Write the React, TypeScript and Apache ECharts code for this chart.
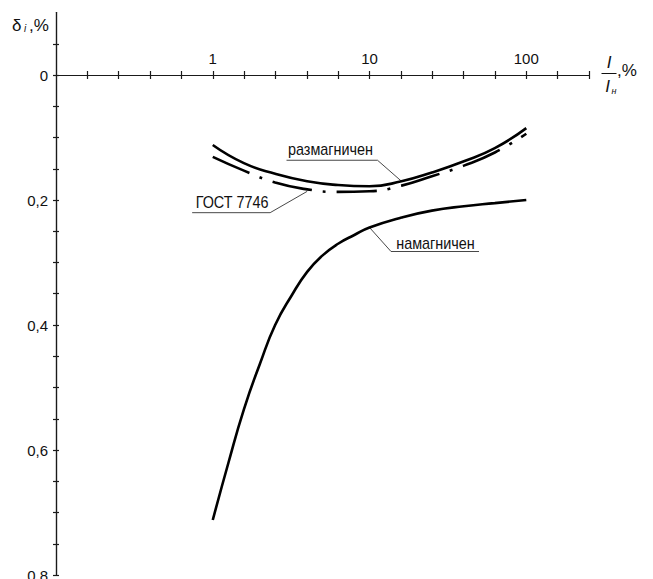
import { useEffect, useRef } from "react";
import * as echarts from "echarts";

const FONT = '"Liberation Sans", Arial, sans-serif';
const INK = "#111";

// Current ratio I/Iн, % (log-spaced) and the ratio error δi, % for each curve
const ratioFine = [1, 1.26, 1.58, 2, 2.5, 3.2, 4, 5, 6.3, 8, 10, 16, 25, 40, 63, 100];
const errMagnetized = [0.712, 0.62, 0.535, 0.462, 0.4, 0.352, 0.315, 0.289, 0.27, 0.256, 0.244, 0.228, 0.217, 0.21, 0.205, 0.2];

const ratioCoarse = [1, 1.58, 2.5, 4, 6.3, 10, 16, 25, 40, 63, 100];
const errDemagnetized = [0.112, 0.141, 0.158, 0.17, 0.176, 0.178, 0.17, 0.156, 0.138, 0.117, 0.085];
const errGost = [0.131, 0.153, 0.172, 0.183, 0.187, 0.186, 0.177, 0.162, 0.145, 0.124, 0.094];

const curveNames = ["намагничен", "размагничен", "ГОСТ 7746"];

// Tick labels: the x axis holds log10(I/Iн)
const xLabelDecades = [0, 1, 2];
const xTickLabels = ["1", "10", "100"];
const yLabelValues = [0, 0.2, 0.4, 0.6, 0.8];
const yTickLabels = ["0", "0,2", "0,4", "0,6", "0,8"];

const X_MIN = -1;
const X_MAX = 2.4;
const Y_MIN = -0.1;
const Y_MAX = 0.8;

const GRID = { left: 56, right: 64, top: 12.5, bottom: 4 };
const CHART_W = 653;
const CHART_H = 579;

const xTicks: number[] = [];
for (let k = -4; k <= 12; k++) xTicks.push(Math.round(k * 2) / 10);
const yTicks: number[] = [];
for (let k = -1; k <= 16; k++) yTicks.push(Math.round(k * 5) / 100);

// The x axis runs along δ = 0: shift it down from the top edge of the grid
const gridHeight = CHART_H - GRID.top - GRID.bottom;
const xAxisShift = -((0 - Y_MIN) / (Y_MAX - Y_MIN)) * gridHeight;

const toPoints = (ratios: number[], errs: number[]) =>
  ratios.map((r, i) => [Math.log10(r), errs[i]]);

const axisLineStyle = { color: "#1a1a1a", width: 1.2 };

function xAxisDef(inside: boolean) {
  return {
    type: "value",
    min: X_MIN,
    max: X_MAX,
    position: "top",
    offset: xAxisShift,
    axisLine: { show: true, onZero: false, lineStyle: axisLineStyle },
    axisTick: { show: true, inside, length: 4, customValues: xTicks, lineStyle: axisLineStyle },
    axisLabel: inside
      ? { show: false }
      : {
          show: true,
          customValues: xLabelDecades,
          margin: 9,
          fontFamily: FONT,
          fontSize: 15,
          color: INK,
          formatter: (v: number) => {
            const i = xLabelDecades.findIndex((d) => Math.abs(d - v) < 1e-9);
            return i >= 0 ? xTickLabels[i] : "";
          },
        },
    splitLine: { show: false },
  };
}

function yAxisDef(inside: boolean) {
  return {
    type: "value",
    inverse: true,
    min: Y_MIN,
    max: Y_MAX,
    position: "left",
    axisLine: { show: true, onZero: false, lineStyle: axisLineStyle },
    axisTick: { show: true, inside, length: 3, customValues: yTicks, lineStyle: axisLineStyle },
    axisLabel: inside
      ? { show: false }
      : {
          show: true,
          customValues: yLabelValues,
          margin: 8,
          fontFamily: FONT,
          fontSize: 15,
          color: INK,
          formatter: (v: number) => {
            const i = yLabelValues.findIndex((d) => Math.abs(d - v) < 1e-9);
            return i >= 0 ? yTickLabels[i] : "";
          },
        },
    splitLine: { show: false },
  };
}

export default function App() {
  const ref = useRef<HTMLDivElement>(null);

  useEffect(() => {
    if (!ref.current) return;
    const chart = echarts.init(ref.current, null, { renderer: "svg" });

    const curve = (name: string, data: number[][], type: any) => ({
      name,
      type: "line",
      data,
      smooth: 0.5,
      symbol: "none",
      silent: true,
      lineStyle: { color: "#000", width: 2.6, type, cap: "butt" },
    });

    chart.setOption({
      animation: false,
      backgroundColor: "#fff",
      grid: { ...GRID, containLabel: false, outerBoundsMode: "none" },
      xAxis: [xAxisDef(false), xAxisDef(true)],
      yAxis: [yAxisDef(false), yAxisDef(true)],
      series: [
        curve(curveNames[0], toPoints(ratioFine, errMagnetized), "solid"),
        curve(curveNames[1], toPoints(ratioCoarse, errDemagnetized), "solid"),
        curve(curveNames[2], toPoints(ratioCoarse, errGost), [40, 11, 3, 11]),
      ],
    });

    const px = (r: number, v: number) =>
      chart.convertToPixel({ xAxisIndex: 0, yAxisIndex: 0 }, [Math.log10(r), v]) as number[];

    const leader = { stroke: "#333", lineWidth: 0.9, fill: null };
    const callout = (text: string, x: number, y: number) => ({
      type: "text",
      x,
      y,
      scaleX: 0.9,
      style: {
        text,
        align: "center",
        verticalAlign: "middle",
        fontFamily: FONT,
        fontSize: 16,
        fill: INK,
      },
    });

    // Callouts anchored to points on the curves
    const tDem = px(ratioCoarse[6], errDemagnetized[6]);
    const tGost = px(ratioCoarse[3], errGost[3]);
    const tMag = px(ratioFine[10], errMagnetized[10]);

    const graphic: any[] = [
      {
        type: "polyline",
        shape: { points: [[tDem[0] - 115, tDem[1] - 21], [tDem[0] - 24, tDem[1] - 21], [tDem[0], tDem[1]]] },
        style: leader,
      },
      callout(curveNames[1], tDem[0] - 71, tDem[1] - 32),
      {
        type: "polyline",
        shape: { points: [[tGost[0] - 115, tGost[1] + 23.3], [tGost[0] - 37, tGost[1] + 23.3], [tGost[0], tGost[1] + 2]] },
        style: leader,
      },
      callout(curveNames[2], tGost[0] - 75, tGost[1] + 12.6),
      {
        type: "polyline",
        shape: { points: [[tMag[0], tMag[1]], [tMag[0] + 21.5, tMag[1] + 24], [tMag[0] + 109.5, tMag[1] + 24]] },
        style: leader,
      },
      callout(curveNames[0], tMag[0] + 66, tMag[1] + 16),

      // y axis title δi, %
      { type: "text", style: { text: "δ", x: 12, y: 25.5, verticalAlign: "middle", fontFamily: FONT, fontSize: 17, fill: INK } },
      { type: "text", style: { text: "i", x: 24, y: 28.5, verticalAlign: "middle", fontFamily: FONT, fontSize: 10, fontStyle: "italic", fill: INK } },
      { type: "text", style: { text: ",%", x: 29, y: 25.5, verticalAlign: "middle", fontFamily: FONT, fontSize: 17, fill: INK } },

      // x axis title I/Iн, %
      { type: "text", style: { text: "I", x: 609, y: 62, align: "center", verticalAlign: "middle", fontFamily: FONT, fontSize: 17, fontStyle: "italic", fill: INK } },
      { type: "line", shape: { x1: 601.5, y1: 73.5, x2: 616.5, y2: 73.5 }, style: { stroke: INK, lineWidth: 1 } },
      { type: "text", style: { text: "I", x: 607.5, y: 86, align: "center", verticalAlign: "middle", fontFamily: FONT, fontSize: 17, fontStyle: "italic", fill: INK } },
      { type: "text", style: { text: "н", x: 614, y: 91, align: "center", verticalAlign: "middle", fontFamily: FONT, fontSize: 9, fontStyle: "italic", fill: INK } },
      { type: "text", style: { text: ",%", x: 617, y: 70, verticalAlign: "middle", fontFamily: FONT, fontSize: 17, fill: INK } },
    ];

    chart.setOption({ graphic });

    return () => chart.dispose();
  }, []);

  return (
    <div
      ref={ref}
      style={{ position: "fixed", left: 0, top: 0, width: CHART_W, height: CHART_H, background: "#fff" }}
    />
  );
}
